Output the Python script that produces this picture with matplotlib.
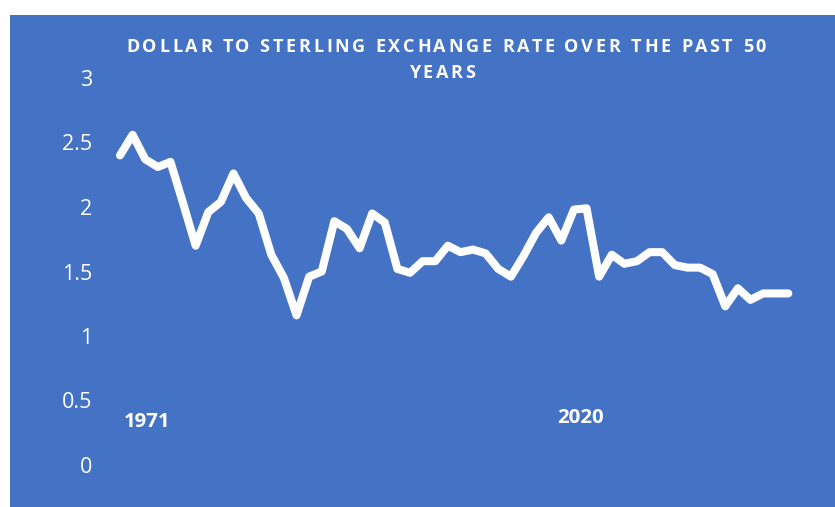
import numpy as np
import matplotlib
matplotlib.use('Agg')
from matplotlib import pyplot as plt
from matplotlib.font_manager import FontProperties
from matplotlib.patches import Rectangle

W, H = 835, 507
BLUE = '#4472C4'

years = list(range(1971, 2025))
rate = [2.40, 2.56, 2.37, 2.31, 2.35, 2.03, 1.70, 1.96, 2.04, 2.26,
        2.07, 1.95, 1.63, 1.45, 1.16, 1.46, 1.50, 1.89, 1.83, 1.68,
        1.95, 1.88, 1.52, 1.49, 1.58, 1.58, 1.70, 1.65, 1.67, 1.64,
        1.52, 1.46, 1.62, 1.80, 1.92, 1.74, 1.98, 1.99, 1.46, 1.63,
        1.56, 1.58, 1.65, 1.65, 1.55, 1.53, 1.53, 1.48, 1.23, 1.37,
        1.28, 1.33, 1.33, 1.33]
y_ticks = [0, 0.5, 1, 1.5, 2, 2.5, 3]
y_labels = ['0', '0.5', '1', '1.5', '2', '2.5', '3']
title_lines = ['DOLLAR TO STERLING EXCHANGE RATE OVER THE PAST 50', 'YEARS']
year_marks = ['1971', '2020']


def px(x, y):
    # pixel position (from top-left) -> figure fraction
    return x / W, 1 - y / H


def spaced_text(fig, renderer, s, xc, y_base, prop, track):
    # matplotlib has no letter-spacing, so place characters one by one
    ref = renderer.get_text_width_height_descent('I', prop, ismath=False)[0]
    offs = [renderer.get_text_width_height_descent(s[:i] + 'I', prop, ismath=False)[0] - ref if i else 0
            for i in range(len(s))]
    offs = [o + i * track for i, o in enumerate(offs)]
    last = renderer.get_text_width_height_descent(s[-1], prop, ismath=False)[0]
    total = offs[-1] + last
    x0 = xc - total / 2
    for ch, o in zip(s, offs):
        if ch == ' ':
            continue
        fx, fy = px(x0 + o, y_base)
        fig.text(fx, fy, ch, fontproperties=prop, color='white', ha='left', va='baseline')
    return total


fig = plt.figure(figsize=(W / 100, H / 100), dpi=100)
fig.patch.set_facecolor('white')
fig.patches.append(Rectangle((10 / W, 0), (W - 10) / W, (H - 15) / H,
                             transform=fig.transFigure, facecolor=BLUE, edgecolor='none', zorder=-10))

# plot area: category centres 12.61 px apart, first at x=120
step = (788.3 - 120) / (len(years) - 1)
left = 120 - step / 2
right = 788.3 + step / 2
y_top, y_bot = 465 - 129 * 3, 465
ax = fig.add_axes([left / W, 1 - y_bot / H, (right - left) / W, (y_bot - y_top) / H])
ax.set_facecolor('none')
x = np.arange(len(years))
ax.plot(x, rate, color='white', lw=5.8, solid_joinstyle='round', solid_capstyle='round',
        clip_on=False)
ax.set_xlim(-0.5, len(years) - 0.5)
ax.set_ylim(0, 3)
ax.set_xticks([])
ax.set_yticks(y_ticks)
ax.set_yticklabels(y_labels, family='Open Sans', fontsize=15.5, color='white')
ax.tick_params(axis='y', length=0, pad=(left - 92) * 0.72)
for sp in ax.spines.values():
    sp.set_visible(False)

# year markers under the line
yp = FontProperties(family='Open Sans', weight='bold', size=14.7)
fig.text(*px(146.7, 427.3), year_marks[0], fontproperties=yp, color='white', ha='center', va='baseline')
fig.text(*px(581, 423.3), year_marks[1], fontproperties=yp, color='white', ha='center', va='baseline')

# letter-spaced title
renderer = fig.canvas.get_renderer()
tp = FontProperties(family='Open Sans', weight='bold', size=13.0)
line1 = title_lines[0]
nat_w = renderer.get_text_width_height_descent(line1, tp, ismath=False)[0]
track = (640 - nat_w) / (len(line1) - 1)
spaced_text(fig, renderer, line1, 446, 51.7, tp, track)
spaced_text(fig, renderer, title_lines[1], 442, 78.3, tp, track)

fig.savefig('out.png', dpi=100, facecolor=fig.get_facecolor())
